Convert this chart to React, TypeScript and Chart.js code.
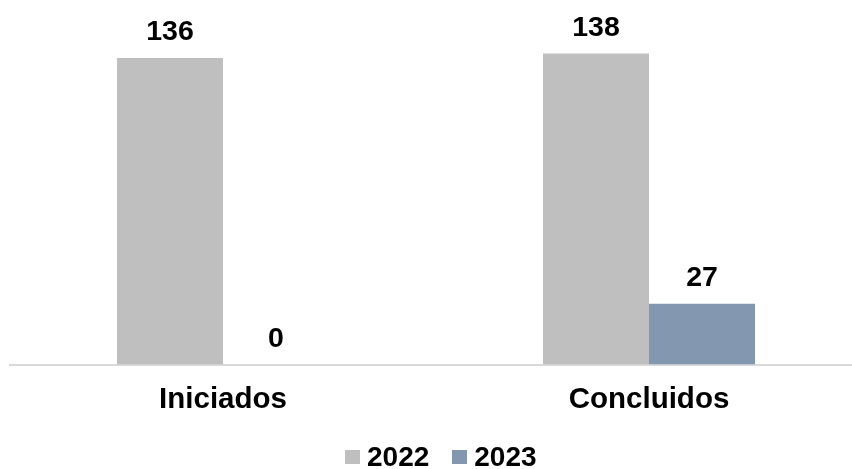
import React, { useEffect, useRef } from "react";
import { Chart, registerables } from "chart.js";

Chart.register(...registerables);

const categories = ["Iniciados", "Concluidos"];
const seriesNames = ["2022", "2023"];
const values2022 = [136, 138];
const values2023 = [0, 27];
const colors = ["#BFBFBF", "#8497B0"];

const FONT = "'Liberation Sans', Arial, Helvetica, sans-serif";

const valueLabels = {
  id: "valueLabels",
  afterDatasetsDraw(chart: any) {
    const ctx = chart.ctx;
    ctx.save();
    ctx.font = `bold 28.5px ${FONT}`;
    ctx.fillStyle = "#000000";
    ctx.textAlign = "center";
    ctx.textBaseline = "alphabetic";
    chart.data.datasets.forEach((ds: any, i: number) => {
      const meta = chart.getDatasetMeta(i);
      meta.data.forEach((bar: any, j: number) => {
        ctx.fillText(String(ds.data[j]), bar.x, bar.y - 18);
      });
    });
    ctx.restore();
  },
};

export default function App() {
  const ref = useRef<HTMLCanvasElement | null>(null);

  useEffect(() => {
    if (!ref.current) return;
    const chart = new Chart(ref.current, {
      type: "bar",
      data: {
        labels: categories,
        datasets: [
          { label: seriesNames[0], data: values2022, backgroundColor: colors[0], borderWidth: 0 },
          { label: seriesNames[1], data: values2023, backgroundColor: colors[1], borderWidth: 0 },
        ],
      },
      options: {
        animation: false,
        responsive: false,
        maintainAspectRatio: false,
        events: [],
        layout: { padding: { left: 10, right: 0, top: 4, bottom: 33 } },
        plugins: {
          legend: { display: false },
          tooltip: { enabled: false },
        },
        datasets: {
          bar: { categoryPercentage: 0.4977, barPercentage: 1 },
        },
        scales: {
          x: {
            grid: { display: false, drawTicks: false },
            border: { display: true, color: "#D9D9D9", width: 2 },
            ticks: {
              color: "#000000",
              font: { family: FONT, size: 29.5, weight: "bold" },
              padding: 18,
            },
          },
          y: {
            display: false,
            min: 0,
            max: 160,
          },
        },
      },
      plugins: [valueLabels],
    });
    return () => chart.destroy();
  }, []);

  const legendItem = (name: string, color: string) => (
    <div style={{ display: "flex", alignItems: "center" }}>
      <div style={{ width: 15, height: 14, background: color, marginRight: 7 }} />
      <span style={{ fontFamily: FONT, fontWeight: "bold", fontSize: 28, lineHeight: "28px", color: "#000" }}>{name}</span>
    </div>
  );

  return (
    <div style={{ position: "absolute", left: 0, top: 0, width: 852, height: 469, overflow: "hidden", background: "#fff" }}>
      <canvas ref={ref} width={862} height={469} style={{ display: "block", width: 862, height: 469 }} />
      <div
        style={{
          position: "absolute",
          left: 345,
          top: 443,
          display: "flex",
          alignItems: "center",
          gap: 23,
        }}
      >
        {legendItem(seriesNames[0], colors[0])}
        {legendItem(seriesNames[1], colors[1])}
      </div>
    </div>
  );
}
